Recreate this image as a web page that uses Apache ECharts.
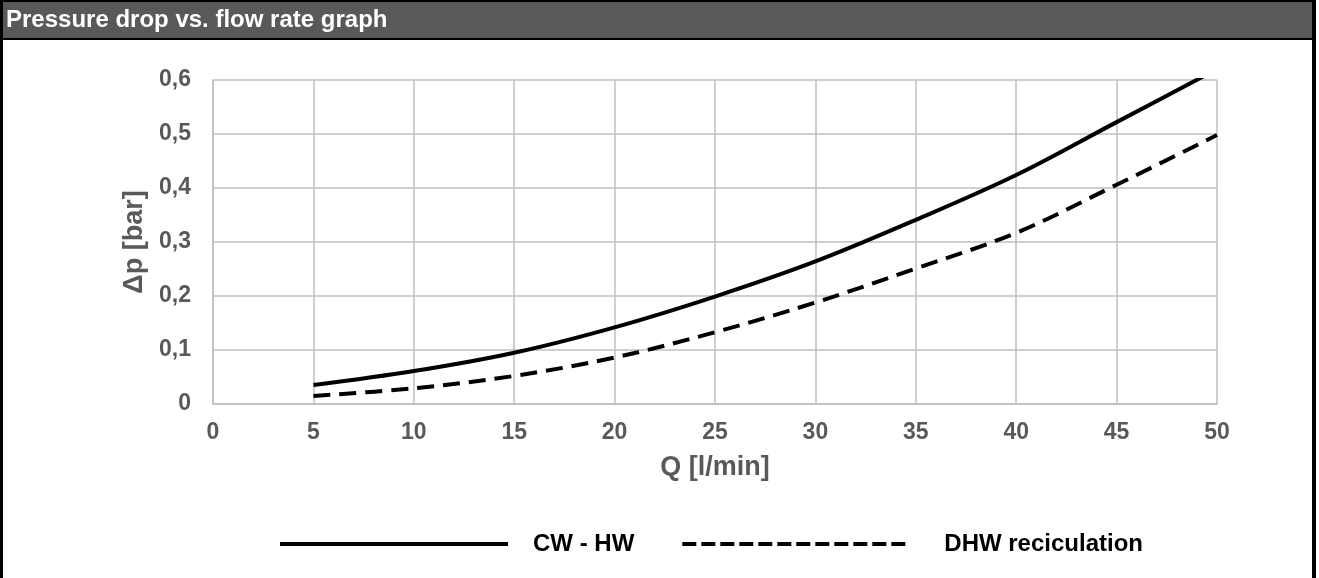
<!DOCTYPE html>
<html>
<head>
<meta charset="utf-8">
<script src="https://cdn.jsdelivr.net/npm/echarts@6/dist/echarts.min.js"></script>
<style>
html,body{margin:0;padding:0;background:#fff;}
#c{position:absolute;left:0;top:0;width:1319px;height:578px;}
</style>
</head>
<body>
<div id="c"></div>
<script>
var titleText = 'Pressure drop vs. flow rate graph';
var xName = 'Q [l/min]';
var yName = 'Δp [bar]';
var seriesNames = ['CW - HW', 'DHW reciculation'];
var flowQ = [5, 10, 15, 20, 25, 30, 35, 40, 45, 50];
var cwHw = [0.035, 0.061, 0.095, 0.142, 0.199, 0.264, 0.341, 0.424, 0.522, 0.62];
var dhwRecirc = [0.015, 0.029, 0.052, 0.086, 0.133, 0.188, 0.251, 0.317, 0.406, 0.498];

function pairs(xs, ys){ return xs.map(function(x,i){ return [x, ys[i]]; }); }

var chart = echarts.init(document.getElementById('c'));
var labelColor = '#595959';
var legendFont = {color:'#000', fontFamily:'Liberation Sans, Arial', fontWeight:'bold', fontSize:24};
chart.setOption({
  animation: false,
  backgroundColor: '#fff',
  title: {
    text: titleText, left: 6, top: 8, padding: 0,
    textStyle: {color:'#fff', fontFamily:'Liberation Sans, Arial', fontWeight:'bold', fontSize:24}
  },
  graphic: [
    {type:'rect', z:-1, shape:{x:0,y:0,width:1316,height:40}, style:{fill:'#000'}},
    {type:'rect', z:-1, shape:{x:3,y:2,width:1309,height:36}, style:{fill:'#595959'}},
    {type:'rect', z:-1, shape:{x:0,y:0,width:3,height:578}, style:{fill:'#000'}},
    {type:'rect', z:-1, shape:{x:1312,y:0,width:4,height:578}, style:{fill:'#000'}}
  ],
  legend: {
    left: 278, top: 532, padding: 0,
    itemWidth: 228, itemHeight: 14, itemGap: 46,
    itemStyle: {opacity: 0},
    textStyle: legendFont,
    data: [
      {name: seriesNames[0], lineStyle: {width: 4, type: 'solid', color: '#000'},
        textStyle: Object.assign({padding:[0,0,0,20]}, legendFont)},
      {name: seriesNames[1], lineStyle: {width: 4, type: [14, 5], color: '#000'},
        textStyle: Object.assign({padding:[0,0,0,29]}, legendFont)}
    ]
  },
  grid: {left:213, right:102, top:80, bottom:174},
  xAxis: {
    type:'value', min:0, max:50, interval:5,
    name: xName, nameLocation:'middle', nameGap:50,
    nameTextStyle:{color:labelColor, fontFamily:'Liberation Sans, Arial', fontWeight:'bold', fontSize:27},
    axisLine:{show:true, lineStyle:{color:'#bfbfbf', width:1.5}},
    axisTick:{show:false},
    axisLabel:{color:labelColor, fontFamily:'Liberation Sans, Arial', fontWeight:'bold', fontSize:23, margin:17},
    splitLine:{show:true, lineStyle:{color:'#bfbfbf', width:1.5}}
  },
  yAxis: {
    type:'value', min:0, max:0.6, interval:0.1,
    name: yName, nameLocation:'middle', nameGap:55,
    nameTextStyle:{color:labelColor, fontFamily:'Liberation Sans, Arial', fontWeight:'bold', fontSize:27},
    axisLine:{show:true, lineStyle:{color:'#bfbfbf', width:1.5}},
    axisTick:{show:false},
    axisLabel:{color:labelColor, fontFamily:'Liberation Sans, Arial', fontWeight:'bold', fontSize:23, margin:22,
      formatter:function(v){ return (Math.round(v*10)/10).toString().replace('.', ','); }},
    splitLine:{show:true, lineStyle:{color:'#bfbfbf', width:1.5}}
  },
  series: [
    {name:seriesNames[0], type:'line', data:pairs(flowQ, cwHw), smooth:0.35, symbol:'none', showSymbol:false,
      lineStyle:{color:'#000', width:4, type:'solid'}, itemStyle:{color:'#000'}, clip:true},
    {name:seriesNames[1], type:'line', data:pairs(flowQ, dhwRecirc), smooth:0.35, symbol:'none', showSymbol:false,
      lineStyle:{color:'#000', width:4, type:[17, 9]}, itemStyle:{color:'#000'}, clip:true}
  ]
});
</script>
</body>
</html>
